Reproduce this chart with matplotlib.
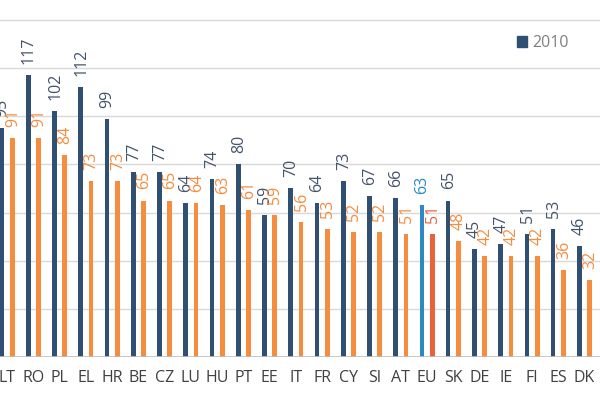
import matplotlib
matplotlib.use("Agg")
import matplotlib.pyplot as plt
import numpy as np
from matplotlib.patches import Patch

plt.rcParams["font.family"] = ["Open Sans", "DejaVu Sans"]

countries = ["LT", "RO", "PL", "EL", "HR", "BE", "CZ", "LU", "HU", "PT", "EE", "IT",
             "FR", "CY", "SI", "AT", "EU", "SK", "DE", "IE", "FI", "ES", "DK"]
values_2010 = [95, 117, 102, 112, 99, 77, 77, 64, 74, 80, 59, 70,
               64, 73, 67, 66, 63, 65, 45, 47, 51, 53, 46]
values_later = [91, 91, 84, 73, 73, 65, 65, 64, 63, 61, 59, 56,
                53, 52, 52, 51, 51, 48, 42, 42, 42, 36, 32]

NAVY = "#2F4F73"
ORANGE = "#F58C3E"
EU_BLUE = "#2A8BC4"
EU_RED = "#E8623A"
NAVY_TXT = "#44546A"

x = np.arange(len(countries))
off = 0.196
width = 0.18

fig = plt.figure(figsize=(6, 4), dpi=100)
ax = fig.add_axes([0, 0.1075, 1, 0.8925])

# EU average gets its own colours
c1 = [EU_BLUE if c == "EU" else NAVY for c in countries]
c2 = [EU_RED if c == "EU" else ORANGE for c in countries]
t1 = [EU_BLUE if c == "EU" else NAVY_TXT for c in countries]
t2 = [EU_RED if c == "EU" else ORANGE for c in countries]

ax.bar(x - off, values_2010, width, color=c1, zorder=3)
ax.bar(x + off, values_later, width, color=c2, zorder=3)

for xi, v, col in zip(x - off, values_2010, t1):
    ax.annotate(str(v), (xi, v), xytext=(0.5, 8), textcoords="offset points",
                rotation=90, ha="center", va="bottom", fontsize=11.5, color=col)
for xi, v, col in zip(x + off, values_later, t2):
    ax.annotate(str(v), (xi, v), xytext=(0.5, 8), textcoords="offset points",
                rotation=90, ha="center", va="bottom", fontsize=11.5, color=col)

for g in range(20, 160, 20):
    ax.axhline(g, color="#D9D9D9", lw=1, zorder=1)
ax.axhline(0, color="#BFBFBF", lw=1.2, zorder=4)

ax.set_xlim(-0.269, 22.59)
ax.set_ylim(0, 148.3)
ax.set_xticks(x)
ax.set_xticklabels(countries, fontsize=11.5, color="#404040")
ax.tick_params(axis="x", length=0, pad=9)
ax.set_yticks([])
for s in ax.spines.values():
    s.set_visible(False)

fig.legend(handles=[Patch(color=NAVY, label="2010")], loc="center left",
           bbox_to_anchor=(517 / 600, 1 - 43 / 400), frameon=False,
           handlelength=0.65, handleheight=0.65, handletextpad=0.3,
           fontsize=11.5, labelcolor="#7F7F7F", borderpad=0, borderaxespad=0)

fig.savefig("out.png", dpi=100)
